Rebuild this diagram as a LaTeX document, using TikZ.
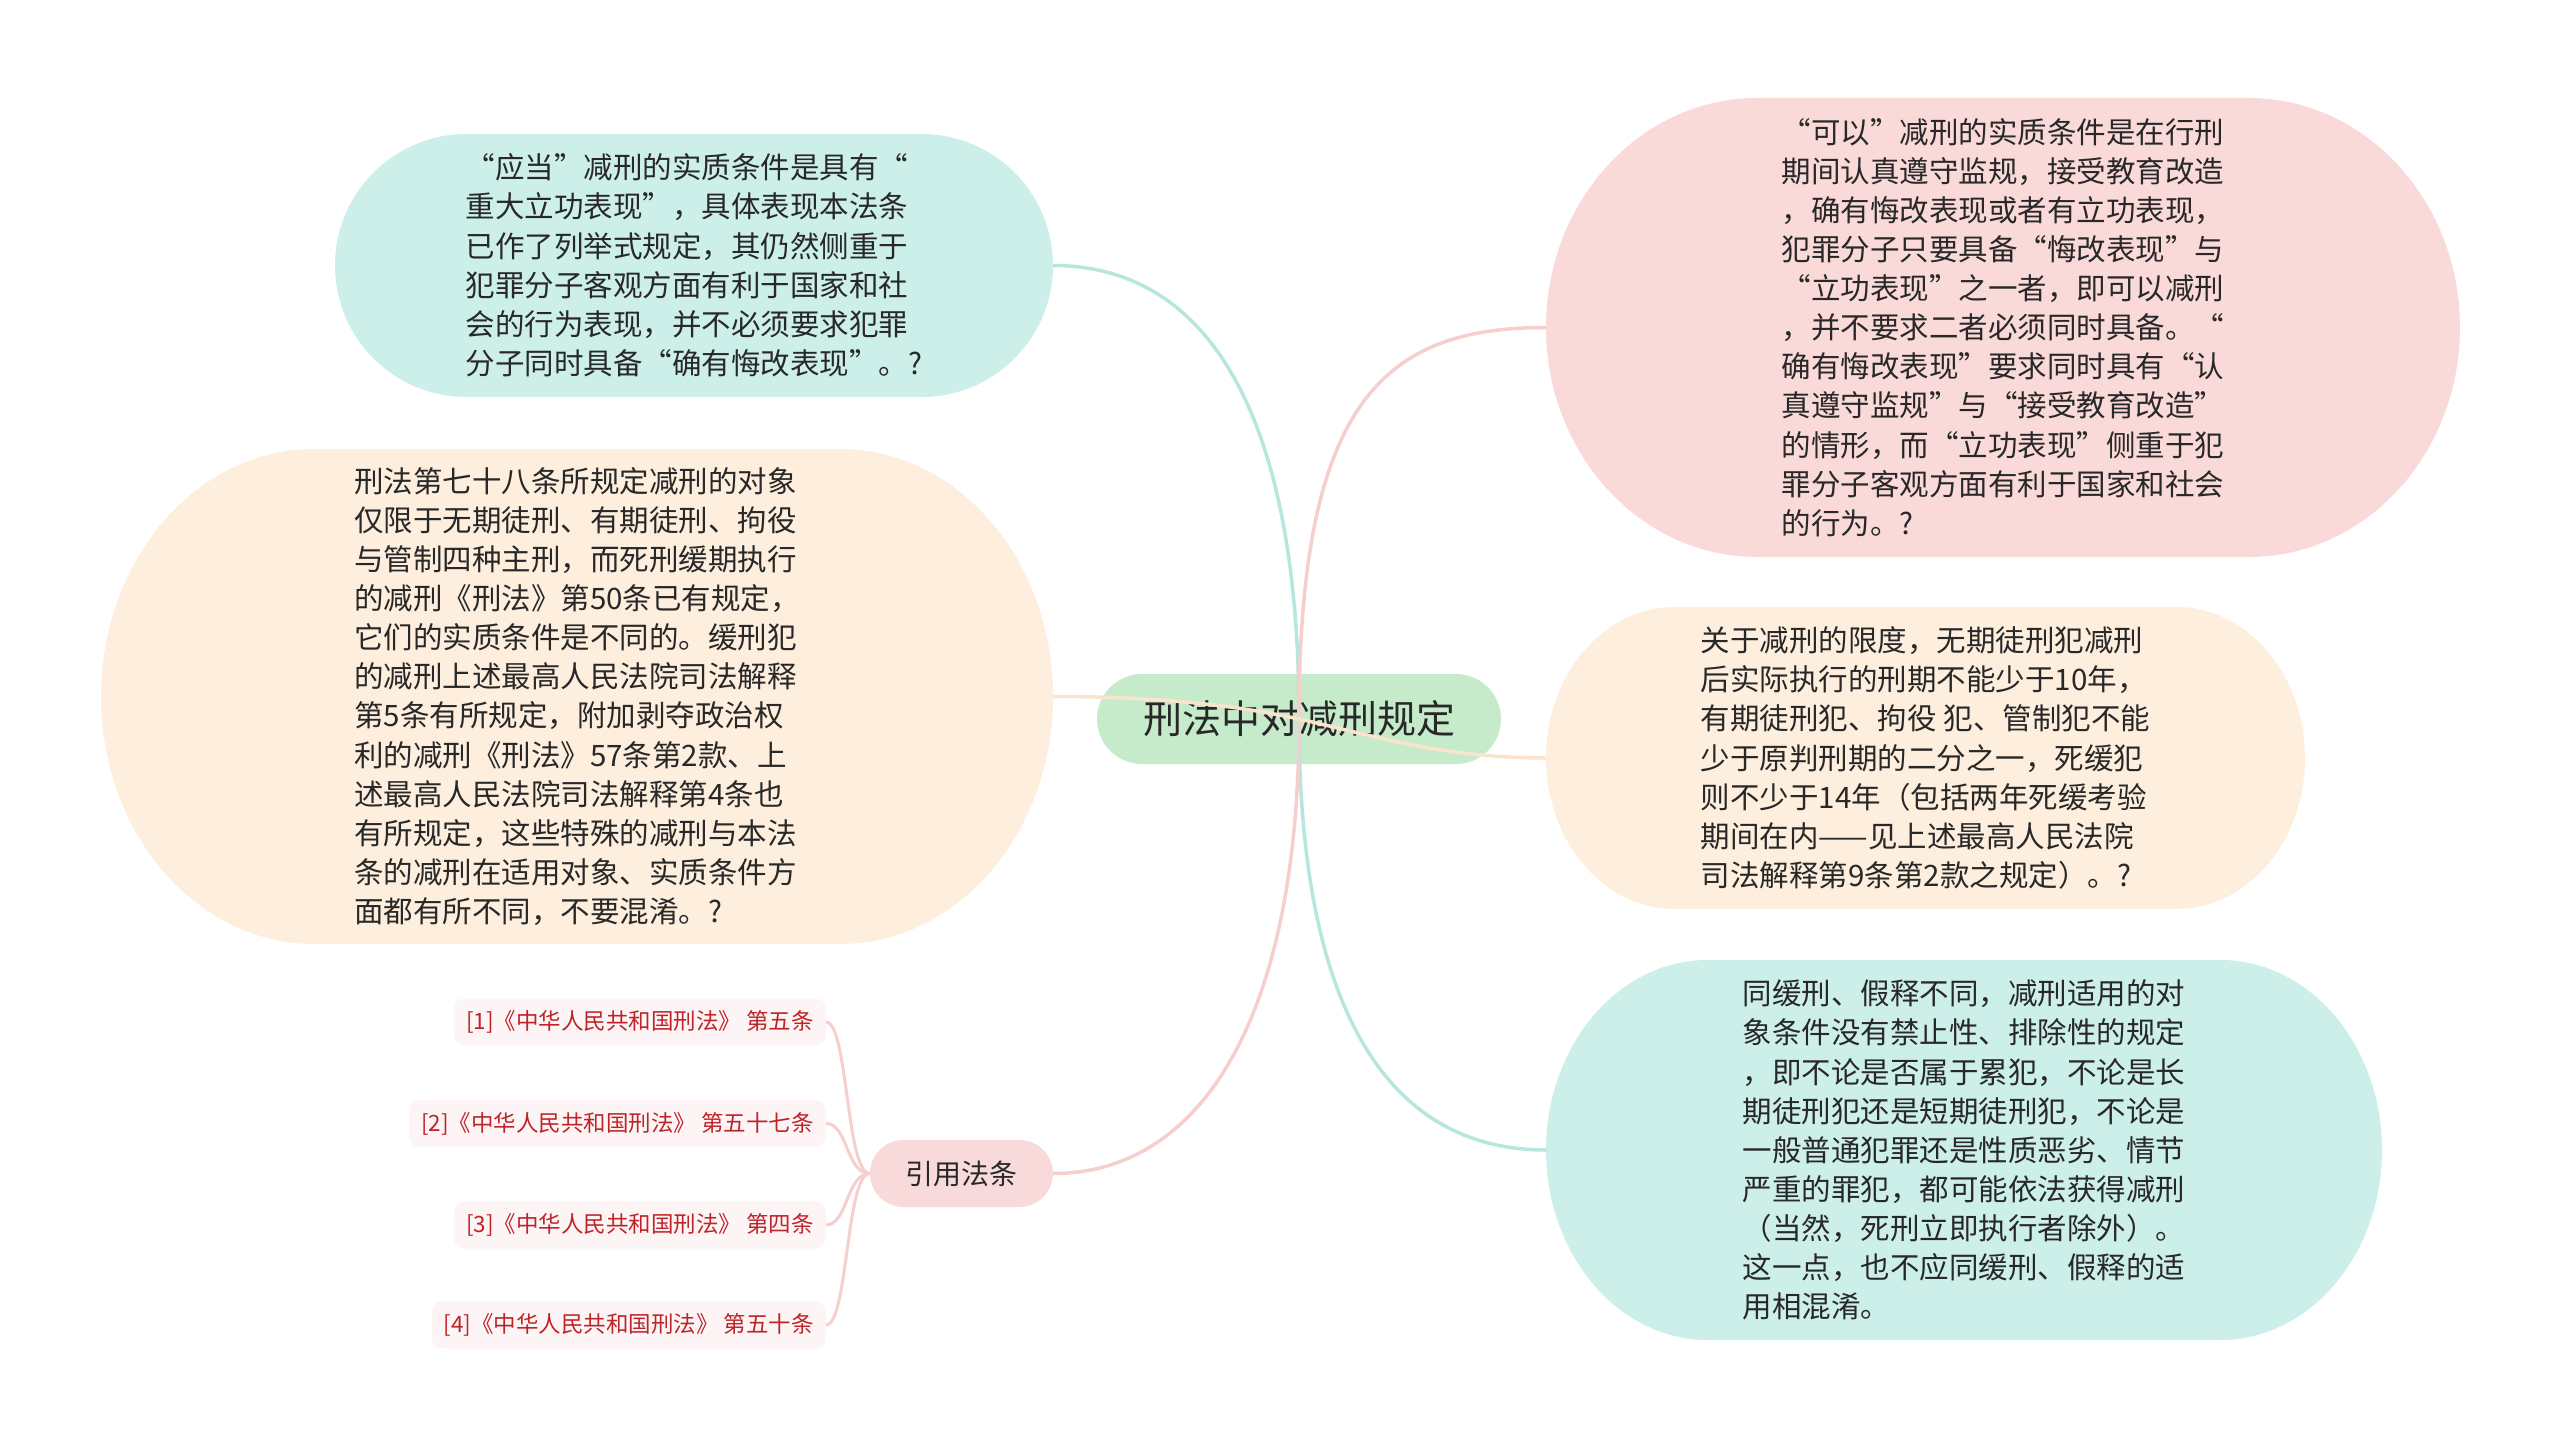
\documentclass[tikz,border=0pt]{standalone}
\usepackage{fontspec}
\setmainfont{Noto Sans CJK SC}
\definecolor{tealfill}{RGB}{205,239,233}
\definecolor{peachfill}{RGB}{253,238,221}
\definecolor{pinkfill}{RGB}{250,217,217}
\definecolor{rootfill}{RGB}{198,235,203}
\definecolor{reffill}{RGB}{249,218,218}
\definecolor{leaffill}{RGB}{253,245,245}
\definecolor{leafred}{RGB}{190,35,40}
\definecolor{tealline}{RGB}{183,230,222}
\definecolor{pinkline}{RGB}{246,206,206}
\definecolor{peachline}{RGB}{251,228,205}
\definecolor{bodytext}{RGB}{40,40,40}
% name, cx, cy, w, h, fill, corner factor, font, text
\newcommand\mmblob[9]{%
  \pgfmathsetmacro\mmbx{#2-#4/2}\pgfmathsetmacro\mmbX{#2+#4/2}%
  \pgfmathsetmacro\mmby{#3-#5/2}\pgfmathsetmacro\mmbY{#3+#5/2}%
  \pgfmathsetmacro\mmry{#5/2}\pgfmathsetmacro\mmrx{#7*#5/2}%
  \pgfmathsetmacro\mmkx{0.552*\mmrx}\pgfmathsetmacro\mmky{0.552*\mmry}%
  \fill[#6] (\mmbx,#3) .. controls (\mmbx,#3-\mmky) and (\mmbx+\mmrx-\mmkx,\mmby) .. (\mmbx+\mmrx,\mmby)
    -- (\mmbX-\mmrx,\mmby) .. controls (\mmbX-\mmrx+\mmkx,\mmby) and (\mmbX,#3-\mmky) .. (\mmbX,#3)
    .. controls (\mmbX,#3+\mmky) and (\mmbX-\mmrx+\mmkx,\mmbY) .. (\mmbX-\mmrx,\mmbY)
    -- (\mmbx+\mmrx,\mmbY) .. controls (\mmbx+\mmrx-\mmkx,\mmbY) and (\mmbx,#3+\mmky) .. (\mmbx,#3) -- cycle;
  \node[blobtext, font=#8, minimum width=#4, minimum height=#5] (#1) at (#2,#3) {#9};
}
\begin{document}
\begin{tikzpicture}[x=1pt,y=-1pt,
  blobtext/.style={inner sep=0pt, align=left, text=bodytext},
  leaf/.style={fill=leaffill, rounded corners=10pt, text=leafred, anchor=east,
    minimum height=47pt, inner xsep=12pt, inner ysep=0pt,
    font=\fontsize{22.5}{27}\selectfont},
  conn/.style={line width=3.5pt},
  refconn/.style={line width=3pt, draw=pinkline}
]
\useasboundingbox (0,0) rectangle (2560,1450);

\mmblob{n1}{694}{265.5}{718}{263}{tealfill}{1}{\fontsize{29.5}{39.2}\selectfont}{%
“应当”减刑的实质条件是具有“\\
重大立功表现”，具体表现本法条\\
已作了列举式规定，其仍然侧重于\\
犯罪分子客观方面有利于国家和社\\
会的行为表现，并不必须要求犯罪\\
分子同时具备“确有悔改表现”。?}

\mmblob{n2}{577}{696.5}{952}{495}{peachfill}{0.86}{\fontsize{29.5}{39.1}\selectfont}{%
刑法第七十八条所规定减刑的对象\\
仅限于无期徒刑、有期徒刑、拘役\\
与管制四种主刑，而死刑缓期执行\\
的减刑《刑法》第50条已有规定，\\
它们的实质条件是不同的。缓刑犯\\
的减刑上述最高人民法院司法解释\\
第5条有所规定，附加剥夺政治权\\
利的减刑《刑法》57条第2款、上\\
述最高人民法院司法解释第4条也\\
有所规定，这些特殊的减刑与本法\\
条的减刑在适用对象、实质条件方\\
面都有所不同，不要混淆。?}

\mmblob{n3}{2003}{327.5}{914}{459}{pinkfill}{0.92}{\fontsize{29.5}{39.1}\selectfont}{%
“可以”减刑的实质条件是在行刑\\
期间认真遵守监规，接受教育改造\\
，确有悔改表现或者有立功表现，\\
犯罪分子只要具备“悔改表现”与\\
“立功表现”之一者，即可以减刑\\
，并不要求二者必须同时具备。“\\
确有悔改表现”要求同时具有“认\\
真遵守监规”与“接受教育改造”\\
的情形，而“立功表现”侧重于犯\\
罪分子客观方面有利于国家和社会\\
的行为。?}

\mmblob{n4}{1925.5}{758}{759}{302}{peachfill}{0.85}{\fontsize{29.5}{39.1}\selectfont}{%
关于减刑的限度，无期徒刑犯减刑\\
后实际执行的刑期不能少于10年，\\
有期徒刑犯、拘役 犯、管制犯不能\\
少于原判刑期的二分之一，死缓犯\\
则不少于14年（包括两年死缓考验\\
期间在内——见上述最高人民法院\\
司法解释第9条第2款之规定）。?}

\mmblob{n5}{1964}{1150}{836}{380}{tealfill}{0.85}{\fontsize{29.5}{39.1}\selectfont}{%
同缓刑、假释不同，减刑适用的对\\
象条件没有禁止性、排除性的规定\\
，即不论是否属于累犯，不论是长\\
期徒刑犯还是短期徒刑犯，不论是\\
一般普通犯罪还是性质恶劣、情节\\
严重的罪犯，都可能依法获得减刑\\
（当然，死刑立即执行者除外）。\\
这一点，也不应同缓刑、假释的适\\
用相混淆。}

\mmblob{root}{1299}{719}{404}{90}{rootfill}{1}{\fontsize{39}{46}\selectfont}{刑法中对减刑规定}

\mmblob{ref}{961.5}{1173.5}{183}{67}{reffill}{1}{\fontsize{28}{34}\selectfont}{引用法条}

\node[leaf] (l1) at (826,1022) {[1]《中华人民共和国刑法》 第五条};
\node[leaf] (l2) at (826,1123.5) {[2]《中华人民共和国刑法》 第五十七条};
\node[leaf] (l3) at (826,1225) {[3]《中华人民共和国刑法》 第四条};
\node[leaf] (l4) at (826,1325) {[4]《中华人民共和国刑法》 第五十条};

% main connectors
\draw[conn, draw=tealline] (root.center) .. controls (1299,400) and (1200,265.5) .. (n1.east);
\draw[conn, draw=pinkline] (root.center) .. controls (1299,400) and (1385,327.5) .. (n3.west);
\draw[conn, draw=tealline] (root.center) .. controls (1299,1030) and (1400,1150) .. (n5.west);
\draw[conn, draw=pinkline] (root.center) .. controls (1299,1020) and (1200,1173.5) .. (ref.east);
\draw[conn, draw=peachline] (root.center) .. controls (1230,704) and (1150,696.5) .. (n2.east);
\draw[conn, draw=peachline] (root.center) .. controls (1368,734) and (1440,758) .. (n4.west);

% reference connectors
\foreach \l in {l1,l2,l3,l4}{
  \draw[refconn] (ref.west) .. controls (846,1173.5) and (848,0 |- \l.east) .. (\l.east);
}
\end{tikzpicture}
\end{document}
